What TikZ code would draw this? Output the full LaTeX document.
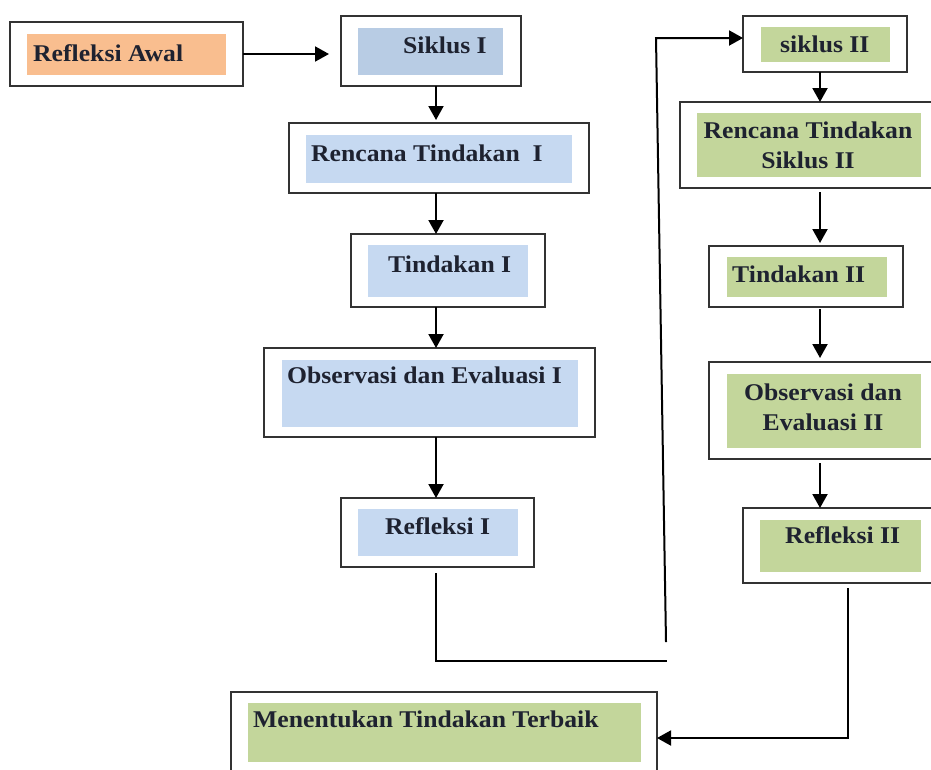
\documentclass[tikz,border=0pt]{standalone}
\usepackage{fontspec}
\setmainfont{Liberation Serif}[FakeStretch=1.07]
\usetikzlibrary{arrows.meta}
\definecolor{boxline}{HTML}{333333}
\definecolor{txtcol}{HTML}{1E2230}
\definecolor{peach}{HTML}{F9BE8F}
\definecolor{bluedark}{HTML}{B8CCE4}
\definecolor{bluelight}{HTML}{C6D9F1}
\definecolor{greenfill}{HTML}{C3D69B}
\newcommand\myobox[5]{\node[obox, minimum width={#4-#2}, minimum height={#5-#3}] (#1) at ({(#2+#4)/2},{(#3+#5)/2}) {};}
\newcommand\myibox[6]{\node[ibox, fill=#6, minimum width={#4-#2}, minimum height={#5-#3}] (#1) at ({(#2+#4)/2},{(#3+#5)/2}) {};}
\begin{document}
\begin{tikzpicture}[x=1pt,y=-1pt,
  obox/.style={draw=boxline, line width=2.2pt, inner sep=0pt, outer sep=0pt, fill=white},
  ibox/.style={draw=none, inner sep=0pt, outer sep=0pt},
  lbl/.style={font=\bfseries\fontsize{24}{29}\selectfont, text=txtcol, inner sep=0pt},
  conn/.style={line width=2pt, draw=black},
  arr/.style={conn, -{Triangle[length=14pt,width=15pt]}}]
\useasboundingbox (0,0) rectangle (931,769);
\clip (0,0) rectangle (931,769);
% boxes
\myobox{ra}{10}{22}{243}{86}
\myibox{rai}{27}{34}{226}{75}{peach}
\node[lbl, anchor=base west] (rat) at (33,61) {Refleksi Awal};

\myobox{sa}{341}{16}{521}{86}
\myibox{sai}{358}{28}{503}{75}{bluedark}
\node[lbl, anchor=base west] (sat) at (403,53) {Siklus I};

\myobox{ra1}{289}{123}{589}{193}
\myibox{ra1i}{306}{135}{572}{183}{bluelight}
\node[lbl, anchor=base west] (ra1t) at (311,161) {Rencana Tindakan\ \ I};

\myobox{ta}{351}{234}{545}{307}
\myibox{tai}{368}{245}{528}{297}{bluelight}
\node[lbl, anchor=base west] (tat) at (388,272) {Tindakan I};

\myobox{oa}{264}{348}{595}{437}
\myibox{oai}{282}{360}{578}{427}{bluelight}
\node[lbl, anchor=base west] (oat) at (287,383) {Observasi dan Evaluasi I};

\myobox{fa}{341}{498}{534}{567}
\myibox{fai}{358}{509}{518}{556}{bluelight}
\node[lbl, anchor=base west] (fat) at (385,534) {Refleksi I};

\myobox{sb}{743}{16}{907}{72}
\myibox{sbi}{761}{27}{890}{62}{greenfill}
\node[lbl, anchor=base west] (sbt) at (780,52) {siklus II};

\myobox{rb}{680}{102}{945}{188}
\myibox{rbi}{697}{113}{921}{177}{greenfill}
\node[lbl, anchor=base] (rbt1) at (808,138) {Rencana Tindakan};
\node[lbl, anchor=base] (rbt2) at (808,168) {Siklus II};

\myobox{tb}{709}{246}{903}{307}
\myibox{tbi}{727}{257}{887}{297}{greenfill}
\node[lbl, anchor=base west] (tbt) at (732,282) {Tindakan II};

\myobox{ob}{709}{362}{945}{459}
\myibox{obi}{727}{374}{921}{448}{greenfill}
\node[lbl, anchor=base] (obt1) at (823,400) {Observasi dan};
\node[lbl, anchor=base] (obt2) at (823,430) {Evaluasi II};

\myobox{fb}{743}{508}{945}{583}
\myibox{fbi}{760}{520}{921}{572}{greenfill}
\node[lbl, anchor=base west] (fbt) at (785,543) {Refleksi II};

\myobox{mt}{231}{692}{657}{790}
\myibox{mti}{248}{703}{641}{762}{greenfill}
\node[lbl, anchor=base west] (mtt) at (253,727) {Menentukan Tindakan Terbaik};

% connector guide coordinates
\coordinate (axa) at (436,0);
\coordinate (axb) at (820,0);
\coordinate (yra) at (0,54);
\coordinate (ja) at (436,661);
\coordinate (jb) at (667,661);
\coordinate (jc) at (666,642);
\coordinate (jd) at (656,38);
\coordinate (je) at (848,738);

% connectors
\draw[arr, shorten >=12pt] (ra.east |- yra) -- (sa.west |- yra);
\draw[arr, shorten >=3pt] (sa.south -| axa) -- (ra1.north -| axa);
\draw[arr] (ra1.south -| axa) -- (ta.north -| axa);
\draw[arr] (ta.south -| axa) -- (oa.north -| axa);
\draw[arr] (oa.south -| axa) -- (fa.north -| axa);
\draw[conn, shorten <=6pt] (fa.south -| axa) -- (ja) -- (jb);
\draw[arr] (jc) -- (jd) -- (sb.west |- jd);
\draw[arr] (sb.south -| axb) -- (rb.north -| axb);
\draw[arr, shorten <=4pt, shorten >=3pt] (rb.south -| axb) -- (tb.north -| axb);
\draw[arr, shorten <=2pt, shorten >=4pt] (tb.south -| axb) -- (ob.north -| axb);
\draw[arr, shorten <=4pt] (ob.south -| axb) -- (fb.north -| axb);
\draw[arr, shorten <=5pt] (fb.south -| je) -- (je) -- (mt.east |- je);
\end{tikzpicture}
\end{document}
